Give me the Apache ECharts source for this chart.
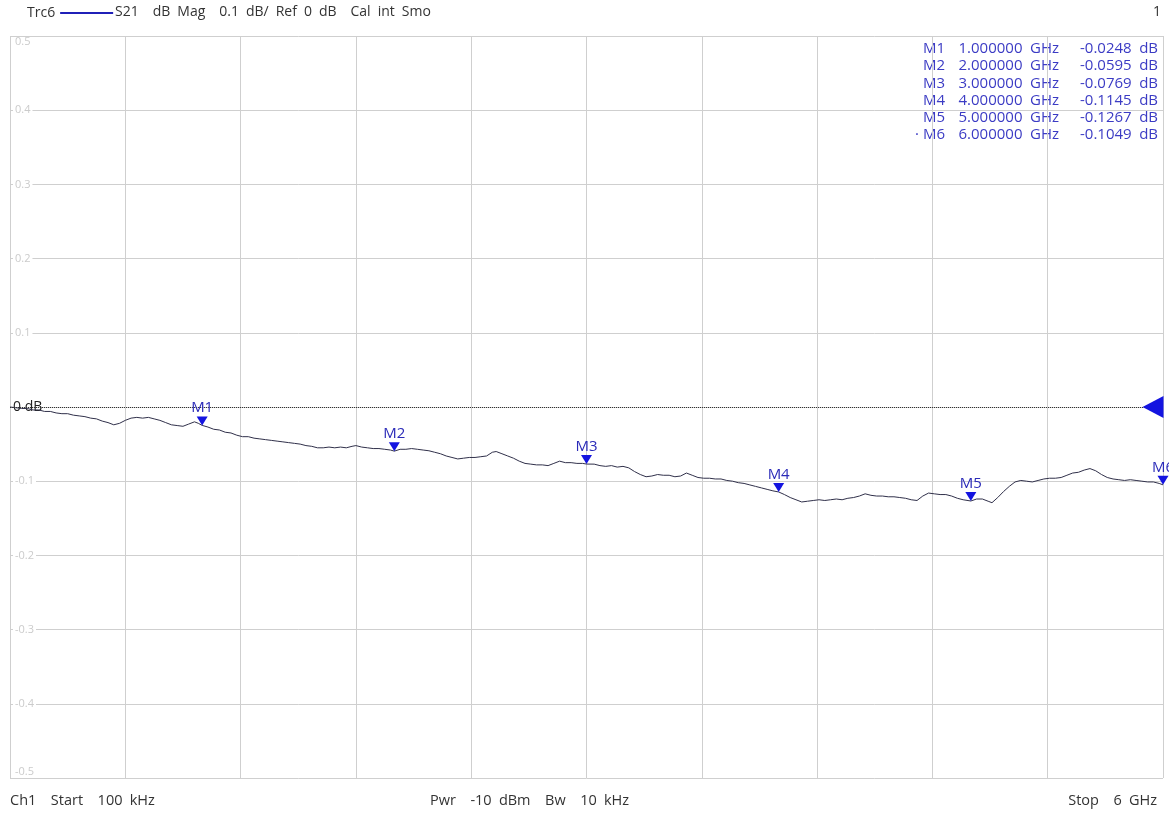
<!DOCTYPE html>
<html><head><meta charset="utf-8">
<script src="https://cdn.jsdelivr.net/npm/echarts@6/dist/echarts.min.js"></script>
<style>html,body{margin:0;padding:0;background:#fff}#c{width:1169px;height:815px}</style>
</head><body><div id="c"></div>
<script>
const freqGHz = [0.0001,0.03,0.06,0.09,0.12,0.15,0.18,0.21,0.24,0.27,0.30,0.33,0.36,0.39,0.42,0.45,0.48,0.51,0.54,0.57,0.60,0.63,0.66,0.69,0.72,0.75,0.78,0.81,0.84,0.87,0.90,0.93,0.96,0.98,1.00,1.03,1.06,1.09,1.12,1.15,1.18,1.21,1.24,1.27,1.30,1.33,1.36,1.39,1.42,1.45,1.48,1.51,1.54,1.57,1.60,1.63,1.66,1.69,1.72,1.75,1.78,1.80,1.83,1.86,1.89,1.92,1.95,1.98,2.00,2.03,2.06,2.09,2.12,2.15,2.18,2.21,2.24,2.27,2.30,2.33,2.36,2.39,2.42,2.45,2.48,2.51,2.53,2.56,2.59,2.62,2.65,2.68,2.71,2.74,2.77,2.80,2.83,2.86,2.89,2.92,2.95,2.98,3.00,3.04,3.07,3.10,3.13,3.16,3.19,3.22,3.25,3.28,3.31,3.34,3.37,3.40,3.43,3.46,3.49,3.52,3.55,3.58,3.61,3.64,3.67,3.70,3.73,3.76,3.79,3.82,3.85,3.88,3.91,3.94,3.97,4.00,4.03,4.06,4.09,4.12,4.15,4.18,4.21,4.24,4.27,4.30,4.33,4.36,4.39,4.42,4.45,4.48,4.51,4.54,4.57,4.60,4.63,4.66,4.69,4.72,4.75,4.78,4.81,4.84,4.87,4.90,4.93,4.96,5.00,5.03,5.06,5.09,5.11,5.14,5.17,5.20,5.23,5.26,5.29,5.32,5.35,5.38,5.41,5.44,5.47,5.50,5.53,5.56,5.59,5.62,5.65,5.68,5.71,5.74,5.77,5.80,5.83,5.86,5.89,5.92,5.95,5.98,6.00];
const s21dB = [0.000,-0.001,-0.002,-0.002,-0.004,-0.004,-0.006,-0.006,-0.008,-0.009,-0.009,-0.011,-0.012,-0.013,-0.015,-0.016,-0.019,-0.021,-0.024,-0.022,-0.018,-0.015,-0.014,-0.015,-0.014,-0.016,-0.018,-0.021,-0.024,-0.025,-0.026,-0.023,-0.020,-0.022,-0.0248,-0.027,-0.030,-0.031,-0.034,-0.035,-0.038,-0.040,-0.040,-0.042,-0.043,-0.044,-0.045,-0.046,-0.047,-0.048,-0.049,-0.050,-0.052,-0.053,-0.055,-0.055,-0.054,-0.055,-0.054,-0.055,-0.053,-0.052,-0.054,-0.055,-0.056,-0.056,-0.057,-0.058,-0.0595,-0.057,-0.057,-0.056,-0.057,-0.058,-0.059,-0.061,-0.063,-0.066,-0.068,-0.070,-0.069,-0.068,-0.068,-0.067,-0.066,-0.061,-0.060,-0.063,-0.066,-0.069,-0.073,-0.076,-0.077,-0.078,-0.078,-0.079,-0.076,-0.073,-0.075,-0.075,-0.076,-0.076,-0.0769,-0.077,-0.079,-0.080,-0.079,-0.081,-0.080,-0.082,-0.087,-0.091,-0.094,-0.093,-0.091,-0.092,-0.092,-0.094,-0.093,-0.089,-0.092,-0.095,-0.096,-0.096,-0.097,-0.097,-0.099,-0.100,-0.102,-0.103,-0.105,-0.107,-0.109,-0.111,-0.113,-0.1145,-0.118,-0.122,-0.125,-0.128,-0.127,-0.126,-0.125,-0.126,-0.125,-0.124,-0.125,-0.123,-0.122,-0.120,-0.117,-0.119,-0.120,-0.120,-0.121,-0.121,-0.122,-0.123,-0.125,-0.126,-0.120,-0.116,-0.117,-0.118,-0.118,-0.120,-0.123,-0.125,-0.1267,-0.124,-0.124,-0.127,-0.129,-0.122,-0.114,-0.107,-0.101,-0.099,-0.100,-0.101,-0.099,-0.097,-0.096,-0.096,-0.095,-0.092,-0.089,-0.088,-0.085,-0.083,-0.086,-0.091,-0.095,-0.097,-0.098,-0.099,-0.098,-0.099,-0.100,-0.101,-0.101,-0.103,-0.1049];
const markerNames = ['M1','M2','M3','M4','M5','M6'];
const markerFreqGHz = [1,2,3,4,5,6];
const markerDb = [-0.0248,-0.0595,-0.0769,-0.1145,-0.1267,-0.1049];
const yTicks = [-0.5,-0.4,-0.3,-0.2,-0.1,0,0.1,0.2,0.3,0.4,0.5];
const yTickLabels = ['-0.5','-0.4','-0.3','-0.2','-0.1','0 dB','0.1','0.2','0.3','0.4','0.5'];
const headerWords = ['S21','dB Mag','0.1 dB/ Ref 0 dB','Cal int Smo'];
const footerLeft = 'Ch1  Start  100 kHz';
const footerMid = 'Pwr  -10 dBm  Bw  10 kHz';
const footerRight = 'Stop  6 GHz';

const FONT = 'Open Sans';
const EN = '\u2002', EM = '\u2003';
const sp = s => s.replace(/  /g, EM).replace(/ /g, EN);
const chart = echarts.init(document.getElementById('c'));

const col1 = markerNames.map((m,i)=> (i===markerNames.length-1 ? '\u00b7 ' : '') + m).join('\n');
const col2 = markerFreqGHz.map(f=> f.toFixed(6)+EN+'GHz').join('\n');
const col3 = markerDb.map(v=> v.toFixed(4)+EN+'dB').join('\n');

const mpData = markerNames.map((m,i)=>({
  name:m, coord:[markerFreqGHz[i], markerDb[i]],
  symbol:'triangle', symbolRotate:180, symbolSize:[11,9], symbolOffset:[0,-4.5],
  itemStyle:{color:'#1414e0'},
  label:{show:true, position:'top', distance:1, formatter:m, color:'#2a2ab8', fontSize:15, fontFamily:FONT}
}));
mpData.push({name:'ref', coord:[6,0], symbol:'triangle', symbolRotate:90, symbolSize:[22,21], symbolOffset:[-10,0],
  itemStyle:{color:'#1414e0'}, label:{show:false}});

const tblStyle = {fontSize:15, fontFamily:FONT, fill:'#3b3bc4', lineHeight:17.3};
const ftStyle = {fontSize:14.5, fontFamily:FONT, fill:'#333'};

chart.setOption({
  animation:false,
  backgroundColor:'#fff',
  grid:{left:10,right:6,top:36,bottom:37,containLabel:false},
  legend:{left:22, top:1, align:'right', icon:'rect', itemWidth:53, itemHeight:2,
    data:[{name:'Trc6', itemStyle:{color:'#2020b8'}}],
    textStyle:{fontSize:14, fontFamily:FONT, color:'#333'}},
  xAxis:{type:'value', min:0, max:6, interval:0.6,
    axisLine:{show:false}, axisTick:{show:false}, axisLabel:{show:false},
    splitLine:{show:true, lineStyle:{color:'#cfcfcf', width:1}}},
  yAxis:{type:'value', min:-0.5, max:0.5, interval:0.1,
    axisLine:{show:false}, axisTick:{show:false},
    splitLine:{show:true, lineStyle:{color:'#cfcfcf', width:1}},
    axisLabel:{inside:true, margin:3,
      formatter:function(v){
        let idx = yTicks.findIndex(t=>Math.abs(t-v)<1e-6);
        if(idx<0) return '';
        const lab = yTickLabels[idx];
        if(Math.abs(v)<1e-6) return '{zero|'+lab+'}';
        if(Math.abs(v-0.5)<1e-6) return '{top|'+lab+'}';
        if(Math.abs(v+0.5)<1e-6) return '{bot|'+lab+'}';
        return '{n|'+lab+'}';
      },
      rich:{
        zero:{color:'#222', fontSize:14, fontFamily:FONT},
        n:{color:'#cbcbcb', fontSize:11, fontFamily:FONT, backgroundColor:'#fff', padding:[0,2]},
        top:{color:'#cbcbcb', fontSize:11, fontFamily:FONT, padding:[12,0,0,2]},
        bot:{color:'#cbcbcb', fontSize:11, fontFamily:FONT, padding:[0,0,12,2]}
      }
    }},
  series:[{
    name:'Trc6', type:'line', showSymbol:false, symbol:'none',
    data:freqGHz.map((f,i)=>[f,s21dB[i]]),
    lineStyle:{color:'#30304a', width:1},
    itemStyle:{color:'#2020b8'},
    markLine:{silent:true, symbol:'none', label:{show:false},
      lineStyle:{color:'#333', type:'dotted', width:1},
      data:[{yAxis:0}]},
    markPoint:{silent:true, data:mpData}
  }],
  graphic:[
    {type:'text', left:115, top:5, style:{text:headerWords.map(sp).join(EM), fontSize:14, fontFamily:FONT, fill:'#333'}},
    {type:'text', right:8, top:5, style:{text:'1', fontSize:14, fontFamily:FONT, fill:'#333'}},
    {type:'text', x:945, y:40, style:Object.assign({text:col1, align:'right'}, tblStyle)},
    {type:'text', x:1059, y:40, style:Object.assign({text:col2, align:'right'}, tblStyle)},
    {type:'text', x:1158, y:40, style:Object.assign({text:col3, align:'right'}, tblStyle)},
    {type:'text', left:10, top:793, style:Object.assign({text:sp(footerLeft)}, ftStyle)},
    {type:'text', left:430, top:793, style:Object.assign({text:sp(footerMid)}, ftStyle)},
    {type:'text', right:12, top:793, style:Object.assign({text:sp(footerRight)}, ftStyle)}
  ]
});
</script></body></html>
